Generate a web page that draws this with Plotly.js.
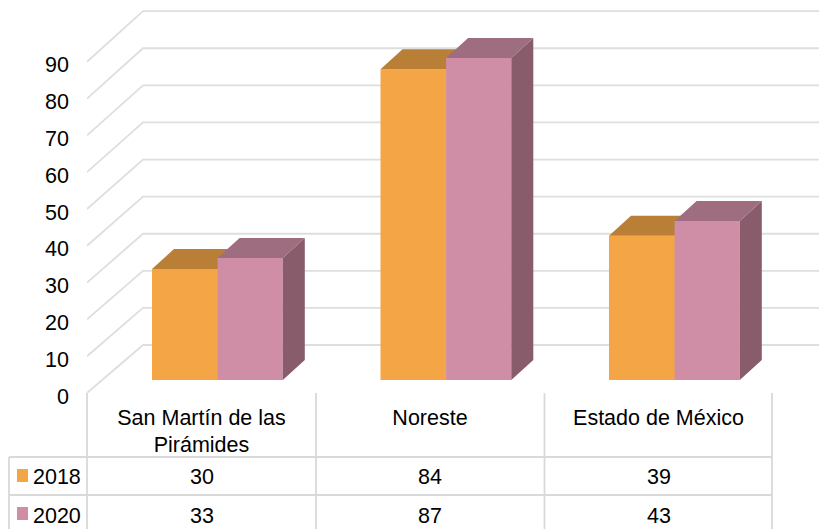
<!DOCTYPE html>
<html><head><meta charset="utf-8">
<script src="https://cdn.plot.ly/plotly-3.0.1.min.js"></script>
<style>html,body{margin:0;padding:0;background:#fff}</style></head>
<body><div id="chart" style="width:819px;height:529px"></div>
<script>
const categories = ['San Martín de las<br>Pirámides', 'Noreste', 'Estado de México'];
const seriesNames = ['2018', '2020'];
const values2018 = [30, 84, 39];
const values2020 = [33, 87, 43];
const gridValues = [0,10,20,30,40,50,60,70,80,90];
const colors2018 = {front:'#F4A546', top:'#B97F36'};
const colors2020 = {front:'#CF8EA6', top:'#9E6E80', side:'#885C6B'};

const W=819,H=529,L=87,BOT=393,colW=228.5,c0=201.5;
const xUnit=px=>px/colW;
const xr=[(L-c0)/colW,(W-c0)/colW];
const gridScale=3.68, barScale=3.7;
const xp=px=>(px-L)/(W-L), yp=py=>(BOT-py)/BOT;
const idx=categories.map((_,i)=>i);

// bar geometry (pixel sizes turned into axis units)
const barW=xUnit(65.2), barWOrange=xUnit(66), off1=xUnit(152-c0), off2=xUnit(217.6-c0);
const barBase=13/barScale, dX=xUnit(22), dY=20/barScale;

function faces(vals,off,w,colour,kind,xa,ya){
  const xs=[],ys=[];
  vals.forEach((v,i)=>{
    const x0=i+off,x1=x0+w,t=barBase+v,b=barBase;
    if(kind==='top'){xs.push(x0,x0+dX,x1+dX,x1,x0,null);ys.push(t,t+dY,t+dY,t,t,null);}
    else{xs.push(x1,x1+dX,x1+dX,x1,x1,null);ys.push(t,t+dY,b+dY,b,t,null);}
  });
  return {type:'scatter',mode:'lines',x:xs,y:ys,fill:'toself',fillcolor:colour,line:{width:0,color:colour},
    xaxis:xa,yaxis:ya,hoverinfo:'skip',showlegend:false};
}

const gx=[],gy=[];
gridValues.forEach(v=>{
  const bk=13.04+1.008*v;
  gx.push(xr[0],xr[0]+xUnit(56),xr[1],null);
  gy.push(v,bk,bk,null);
});

const traces=[
 {type:'scatter',mode:'lines',x:gx,y:gy,line:{color:'#dedede',width:1.8},hoverinfo:'skip',showlegend:false,xaxis:'x',yaxis:'y',cliponaxis:false},
 {type:'bar',name:seriesNames[0],x:idx,y:values2018,base:barBase,offset:off1,width:barWOrange,marker:{color:colors2018.front,line:{width:0}},xaxis:'x2',yaxis:'y2',showlegend:false},
 faces(values2018,off1,barWOrange,colors2018.top,'top','x2','y2'),
 {type:'bar',name:seriesNames[1],x:idx,y:values2020,base:barBase,offset:off2,width:barW,marker:{color:colors2020.front,line:{width:0}},xaxis:'x3',yaxis:'y3',showlegend:false},
 faces(values2020,off2,barW,colors2020.side,'side','x3','y3'),
 faces(values2020,off2,barW,colors2020.top,'top','x3','y3')
];

const FS=21.5, FONT='"Liberation Sans",Arial,sans-serif';
const shapes=[];
const vline=(x,y0,y1)=>shapes.push({type:'line',xref:'paper',yref:'paper',x0:xp(x),x1:xp(x),y0:yp(y0),y1:yp(y1),line:{color:'#d9d9d9',width:1.8}});
const hline=(x0,x1,y)=>shapes.push({type:'line',xref:'paper',yref:'paper',x0:xp(x0),x1:xp(x1),y0:yp(y),y1:yp(y),line:{color:'#d9d9d9',width:1.8}});
vline(9,457,H);vline(87,393,H);vline(316,393,H);vline(544.5,393,H);vline(772,393,H);
hline(9,772,457);hline(9,772,495);
const swatchY=[[469,482],[507,520]];
[colors2018.front,colors2020.front].forEach((c,i)=>shapes.push({type:'rect',xref:'paper',yref:'paper',x0:xp(17),x1:xp(28),y0:yp(swatchY[i][0]),y1:yp(swatchY[i][1]),fillcolor:c,line:{width:0}}));

const annotations=[];
const rowY=[476.5,515.5];
[values2018,values2020].forEach((vals,r)=>{
  annotations.push({xref:'paper',yref:'paper',x:xp(31.5),y:yp(rowY[r]),xanchor:'left',yanchor:'middle',text:seriesNames[r],showarrow:false,borderpad:0,font:{family:FONT,size:FS,color:'#000'}});
  vals.forEach((v,i)=>annotations.push({xref:'paper',yref:'paper',x:xp(c0+i*colW),y:yp(rowY[r]),xanchor:'center',yanchor:'middle',text:String(v),showarrow:false,borderpad:0,font:{family:FONT,size:FS,color:'#000'}}));
});

const hidden=(o)=>Object.assign({visible:false,fixedrange:true},o);
const layout={
 width:W,height:H,margin:{l:L,r:0,t:0,b:H-BOT,pad:0},paper_bgcolor:'#fff',plot_bgcolor:'rgba(0,0,0,0)',showlegend:false,
 barmode:'overlay',
 xaxis:{range:xr,tickmode:'array',tickvals:idx,ticktext:categories,ticks:'',showgrid:false,zeroline:false,showline:false,fixedrange:true,
   tickfont:{family:FONT,size:FS,color:'#000'},automargin:false,ticklabelstandoff:9},
 yaxis:{range:[0,BOT/gridScale],tickmode:'array',tickvals:gridValues,ticks:'',showgrid:false,zeroline:false,showline:false,fixedrange:true,
   tickfont:{family:FONT,size:FS,color:'#000'},automargin:false,ticklabelstandoff:17,ticklabelshift:3},
 xaxis2:hidden({overlaying:'x',range:xr}),yaxis2:hidden({overlaying:'y',range:[0,BOT/barScale]}),
 xaxis3:hidden({overlaying:'x',range:xr}),yaxis3:hidden({overlaying:'y',range:[0,BOT/barScale]}),
 shapes,annotations
};
Plotly.newPlot('chart',traces,layout,{displayModeBar:false,staticPlot:true});
</script></body></html>
